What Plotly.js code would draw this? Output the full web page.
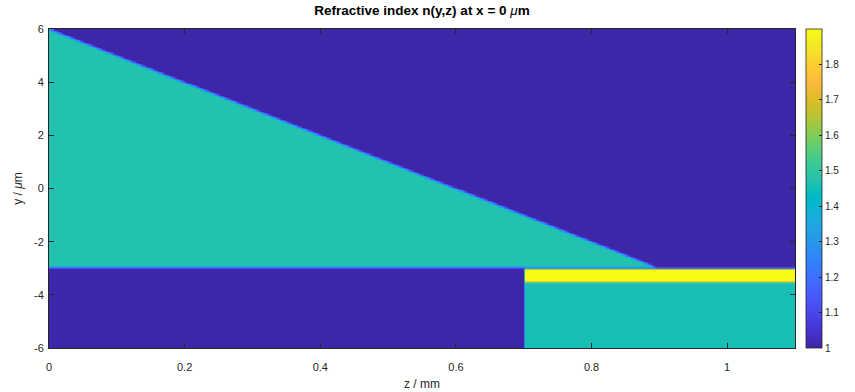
<!DOCTYPE html>
<html>
<head>
<meta charset="utf-8">
<script src="https://cdn.plot.ly/plotly-3.0.1.min.js"></script>
<style>html,body{margin:0;padding:0;background:#fff;}#chart{width:855px;height:392px;}</style>
</head>
<body>
<div id="chart"></div>
<script>
// ---- data ----
const zLimits = [0, 1.1];          // mm
const yLimits = [-6, 6];           // µm
const nBackground = 1.0;
// regions: polygon vertices (z in mm, y in µm) and refractive index
const wedgeZ = [0, 0.895, 0];
const wedgeY = [6, -2.95, -2.95];
const wedgeN = 1.47;
const stripZ = [0.7, 1.1001, 1.1001, 0.7];
const stripY = [-3.0, -3.0, -3.5, -3.5];
const stripN = 1.9;
const substrateZ = [0.7, 1.1001, 1.1001, 0.7];
const substrateY = [-3.5, -3.5, -6.001, -6.001];
const substrateN = 1.455;
const colorbarTicks = [1, 1.1, 1.2, 1.3, 1.4, 1.5, 1.6, 1.7, 1.8];
const xTicks = [0, 0.2, 0.4, 0.6, 0.8, 1];
const xTickText = ['0', '0.2', '0.4', '0.6', '0.8', '1'];
const yTicks = [-6, -4, -2, 0, 2, 4, 6];
const yTickText = ['-6', '-4', '-2', '0', '2', '4', '6'];
const cRange = [1, 1.9];
const gridStepZ = 0.0025, gridStepY = 0.05;

// parula colormap (MATLAB)
const parula = [
[0.2422,0.1504,0.6603],[0.2504,0.1650,0.7076],[0.2578,0.1818,0.7511],[0.2647,0.1978,0.7952],
[0.2706,0.2147,0.8364],[0.2751,0.2342,0.8710],[0.2783,0.2559,0.8991],[0.2803,0.2782,0.9221],
[0.2813,0.3006,0.9414],[0.2810,0.3228,0.9579],[0.2795,0.3447,0.9717],[0.2760,0.3667,0.9829],
[0.2699,0.3892,0.9906],[0.2602,0.4123,0.9952],[0.2440,0.4358,0.9988],[0.2206,0.4603,0.9973],
[0.1963,0.4847,0.9892],[0.1834,0.5074,0.9798],[0.1786,0.5289,0.9682],[0.1764,0.5499,0.9520],
[0.1687,0.5703,0.9359],[0.1540,0.5902,0.9218],[0.1460,0.6091,0.9079],[0.1380,0.6276,0.8973],
[0.1248,0.6459,0.8883],[0.1113,0.6635,0.8763],[0.0952,0.6798,0.8598],[0.0689,0.6948,0.8394],
[0.0297,0.7082,0.8163],[0.0036,0.7203,0.7917],[0.0067,0.7312,0.7660],[0.0433,0.7411,0.7394],
[0.0964,0.7500,0.7120],[0.1408,0.7584,0.6842],[0.1717,0.7670,0.6554],[0.1938,0.7758,0.6251],
[0.2161,0.7843,0.5923],[0.2470,0.7918,0.5567],[0.2906,0.7973,0.5188],[0.3406,0.8008,0.4789],
[0.3909,0.8029,0.4354],[0.4456,0.8024,0.3909],[0.5044,0.7993,0.3480],[0.5616,0.7942,0.3045],
[0.6174,0.7876,0.2612],[0.6720,0.7793,0.2227],[0.7242,0.7698,0.1910],[0.7738,0.7598,0.1646],
[0.8203,0.7498,0.1535],[0.8634,0.7406,0.1596],[0.9035,0.7330,0.1774],[0.9393,0.7288,0.2100],
[0.9728,0.7298,0.2394],[0.9956,0.7434,0.2371],[0.9970,0.7659,0.2199],[0.9952,0.7893,0.2028],
[0.9892,0.8136,0.1885],[0.9786,0.8386,0.1766],[0.9676,0.8639,0.1643],[0.9610,0.8890,0.1537],
[0.9597,0.9135,0.1423],[0.9628,0.9373,0.1265],[0.9691,0.9606,0.1064],[0.9769,0.9839,0.0805]];
const colorscale = parula.map((c, i) => [i / (parula.length - 1),
  'rgb(' + c.map(v => Math.round(v * 255)).join(',') + ')']);

// ---- build the index map from the region polygons (area-averaged per cell) ----
function inPoly(px, py, xs, ys) {
  let inside = false;
  for (let i = 0, j = xs.length - 1; i < xs.length; j = i++) {
    if (((ys[i] > py) !== (ys[j] > py)) &&
        (px < (xs[j] - xs[i]) * (py - ys[i]) / (ys[j] - ys[i]) + xs[i])) inside = !inside;
  }
  return inside;
}
const regions = [
  {z: wedgeZ, y: wedgeY, n: wedgeN},
  {z: stripZ, y: stripY, n: stripN},
  {z: substrateZ, y: substrateY, n: substrateN}
];
function indexAt(zv, yv) {
  let n = nBackground;
  for (const r of regions) if (inPoly(zv, yv, r.z, r.y)) n = r.n;
  return n;
}
const zs = [], ys = [];
for (let v = zLimits[0] + gridStepZ / 2; v < zLimits[1]; v += gridStepZ) zs.push(+v.toFixed(5));
for (let v = yLimits[0] + gridStepY / 2; v < yLimits[1]; v += gridStepY) ys.push(+v.toFixed(5));
const SUB = 4, hz = 0.001, hy = 0.06;
const nMap = ys.map(yv => zs.map(zv => {
  let s = 0, c = 0;
  for (let a = 0; a < SUB; a++) for (let b = 0; b < SUB; b++) {
    const zz = Math.min(Math.max(zv + hz * ((a + 0.5) / SUB * 2 - 1), 0.0001), 1.0999);
    const yy = Math.min(Math.max(yv + hy * ((b + 0.5) / SUB * 2 - 1), -5.999), 5.999);
    s += indexAt(zz, yy); c++;
  }
  return s / c;
}));

const fontFam = 'Liberation Sans, Arial, Helvetica, sans-serif';
const axCol = '#262626';
const trace = {
  type: 'heatmap', x: zs, y: ys, z: nMap,
  colorscale: colorscale, zmin: cRange[0], zmax: cRange[1], zsmooth: 'best',
  hoverinfo: 'skip',
  colorbar: {
    x: 1.0147, xanchor: 'left', xpad: 0, ypad: 0, y: 0.5, yanchor: 'middle',
    len: 1, lenmode: 'fraction', thickness: 16, thicknessmode: 'pixels',
    outlinewidth: 0.8, outlinecolor: axCol,
    tickvals: colorbarTicks, ticktext: colorbarTicks.map(String),
    ticks: 'inside', ticklen: 3, tickcolor: axCol,
    tickfont: {family: fontFam, size: 10, color: axCol}
  }
};
const axisCommon = {
  ticks: 'inside', ticklen: 5, tickcolor: axCol, tickwidth: 1,
  showline: true, linecolor: axCol, linewidth: 1, mirror: 'allticks',
  showgrid: false, zeroline: false,
  tickfont: {family: fontFam, size: 11, color: axCol}
};
const layout = {
  width: 855, height: 392,
  margin: {l: 49, r: 60, t: 29, b: 44},
  paper_bgcolor: '#fff', plot_bgcolor: '#fff',
  title: {text: '<b>Refractive index n(y,z) at x = 0 </b><i>μ</i><b>m</b>', x: 0.4936, xanchor: 'center',
    y: 0.985, yanchor: 'top', font: {family: fontFam, size: 13.5, color: '#000'}},
  xaxis: Object.assign({}, axisCommon, {range: zLimits, tickvals: xTicks, ticktext: xTickText,
    ticklabelstandoff: 9,
    title: {text: 'z / mm', standoff: 7, font: {family: fontFam, size: 12, color: axCol}}}),
  yaxis: Object.assign({}, axisCommon, {range: yLimits, tickvals: yTicks, ticktext: yTickText,
    ticklabelstandoff: 2,
    title: {text: 'y / <i>μ</i>m', standoff: 8, font: {family: fontFam, size: 12, color: axCol}}})
};
Plotly.newPlot('chart', [trace], layout, {displayModeBar: false, staticPlot: true});
</script>
</body>
</html>
